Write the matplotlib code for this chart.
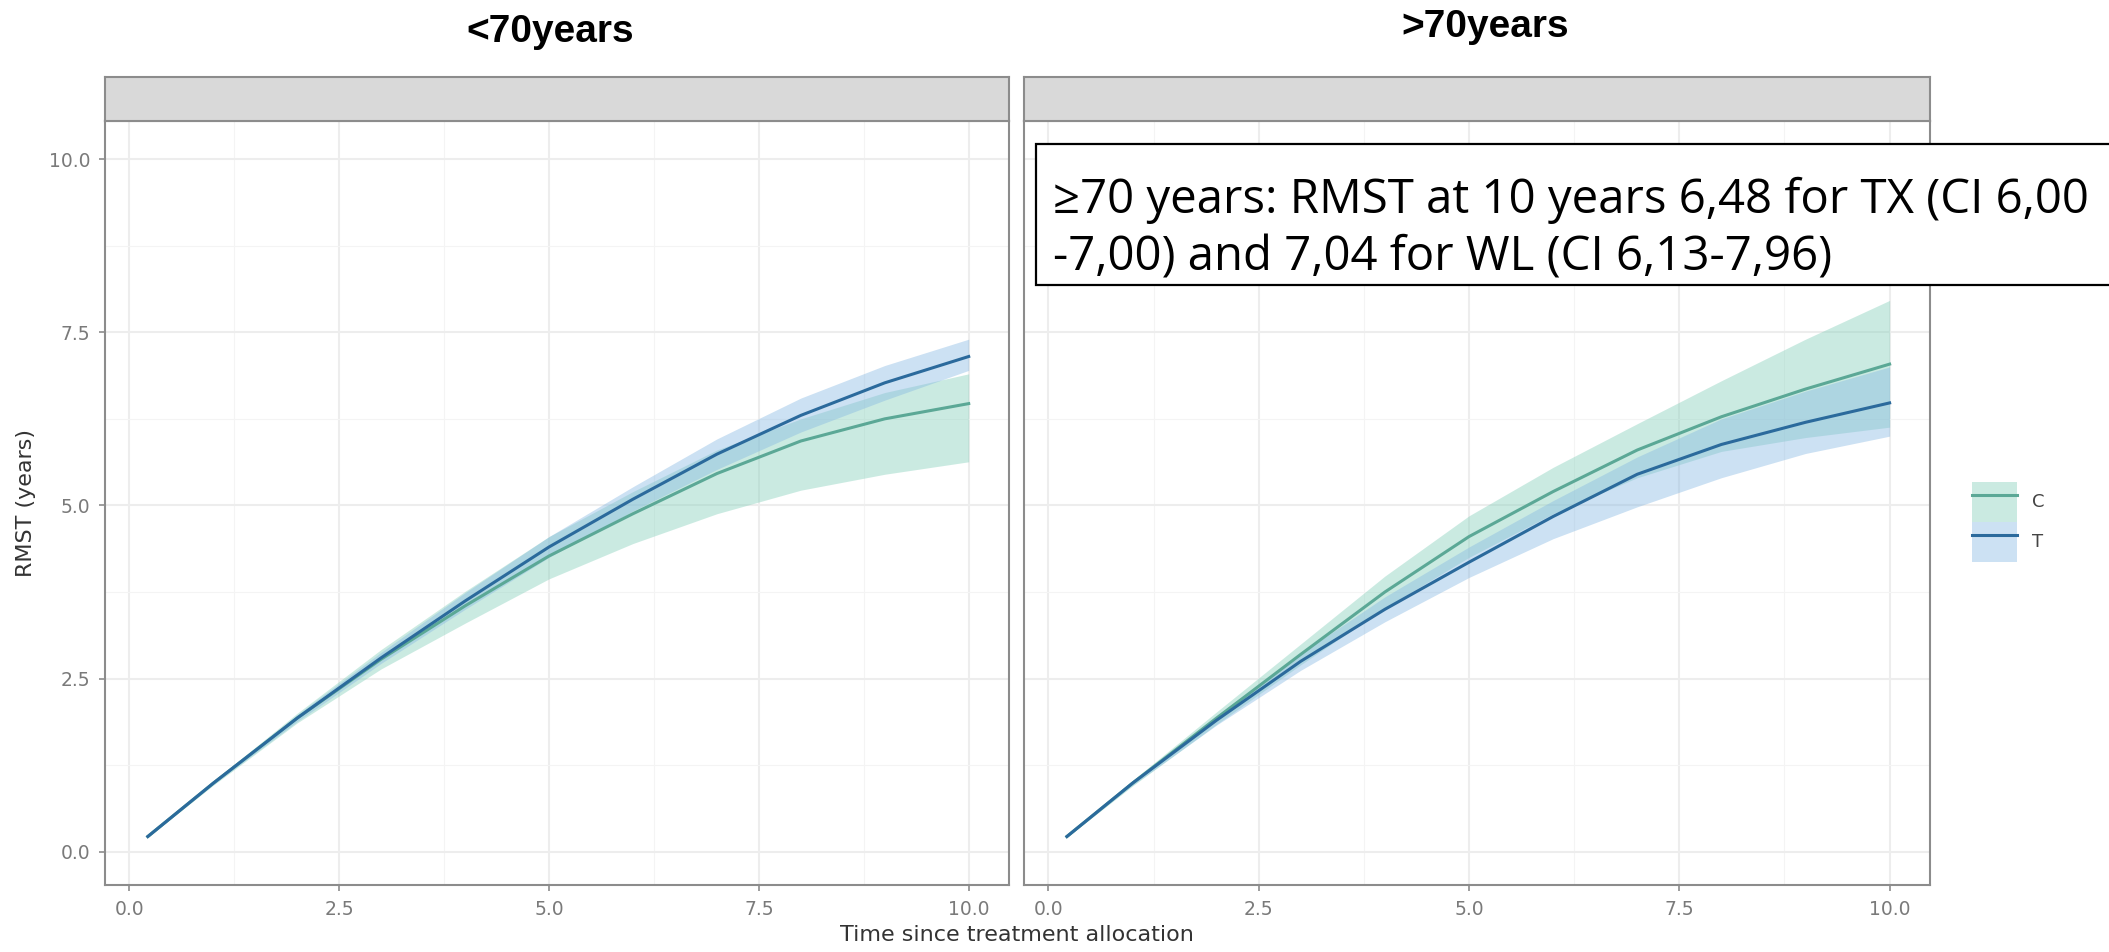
import matplotlib
matplotlib.use("Agg")
import matplotlib.pyplot as plt
from matplotlib.patches import Rectangle, Patch
from matplotlib.lines import Line2D
from matplotlib.legend_handler import HandlerTuple
from matplotlib.ticker import MultipleLocator

# time points (years since treatment allocation)
t = [0.22, 1, 2, 3, 4, 5, 6, 7, 8, 9, 10]

# <70 years
c_left = [0.22, 0.99, 1.93, 2.78, 3.55, 4.27, 4.88, 5.46, 5.93, 6.25, 6.47]
c_left_lo = [0.21, 0.96, 1.86, 2.64, 3.30, 3.94, 4.45, 4.88, 5.22, 5.45, 5.63]
c_left_hi = [0.23, 1.02, 2.00, 2.92, 3.76, 4.55, 5.20, 5.80, 6.25, 6.63, 6.90]
t_left = [0.22, 0.99, 1.93, 2.80, 3.62, 4.40, 5.09, 5.74, 6.30, 6.77, 7.15]
t_left_lo = [0.21, 0.97, 1.88, 2.72, 3.50, 4.25, 4.92, 5.52, 6.06, 6.52, 6.95]
t_left_hi = [0.23, 1.01, 1.98, 2.88, 3.74, 4.55, 5.27, 5.96, 6.55, 7.02, 7.40]

# >70 years
c_right = [0.22, 0.99, 1.93, 2.85, 3.75, 4.55, 5.20, 5.80, 6.28, 6.68, 7.04]
c_right_lo = [0.21, 0.95, 1.84, 2.70, 3.52, 4.25, 4.88, 5.40, 5.78, 5.98, 6.13]
c_right_hi = [0.23, 1.03, 2.02, 3.00, 3.98, 4.85, 5.55, 6.18, 6.80, 7.40, 7.96]
t_right = [0.22, 0.99, 1.90, 2.75, 3.50, 4.18, 4.84, 5.45, 5.88, 6.20, 6.48]
t_right_lo = [0.21, 0.96, 1.83, 2.62, 3.32, 3.96, 4.52, 4.98, 5.40, 5.75, 6.00]
t_right_hi = [0.23, 1.02, 1.97, 2.86, 3.68, 4.40, 5.07, 5.70, 6.25, 6.65, 7.00]

groups = ["C", "T"]
titles = ["<70years", ">70years"]
note = ["\u226570 years: RMST at 10 years 6,48 for TX (CI 6,00",
        "-7,00) and 7,04 for WL (CI 6,13-7,96)"]

green_line = "#5ba896"
blue_line = "#2b6a9c"
green_fill = "#82cfb9"
blue_fill = "#86b8e3"
border = "#8c8c8c"
tick_grey = "#7a7a7a"

W, H = 2109, 952
fig = plt.figure(figsize=(W / 100, H / 100), dpi=100)
fig.patch.set_facecolor("white")

ax_bottom = 1 - 885 / H
ax_height = (885 - 121) / H
panels = [(105, 904), (1024, 906)]

def draw_panel(ax, c, c_lo, c_hi, tr, tr_lo, tr_hi):
    ax.fill_between(t, c_lo, c_hi, color=green_fill, alpha=0.42, lw=0)
    ax.fill_between(t, tr_lo, tr_hi, color=blue_fill, alpha=0.42, lw=0)
    ax.plot(t, c, color=green_line, lw=2.2)
    ax.plot(t, tr, color=blue_line, lw=2.2)

data = [(c_left, c_left_lo, c_left_hi, t_left, t_left_lo, t_left_hi),
        (c_right, c_right_lo, c_right_hi, t_right, t_right_lo, t_right_hi)]

axes = []
for i, (x0, w) in enumerate(panels):
    ax = fig.add_axes([x0 / W, ax_bottom, w / W, ax_height])
    draw_panel(ax, *data[i])
    ax.set_xlim(-0.29, 10.48)
    ax.set_ylim(-0.48, 10.55)
    ax.xaxis.set_major_locator(MultipleLocator(2.5))
    ax.xaxis.set_minor_locator(MultipleLocator(1.25))
    ax.yaxis.set_major_locator(MultipleLocator(2.5))
    ax.yaxis.set_minor_locator(MultipleLocator(1.25))
    ax.set_axisbelow(True)
    ax.grid(which="major", color="#ededed", lw=1.5)
    ax.grid(which="minor", color="#f4f4f4", lw=0.8)
    for s in ax.spines.values():
        s.set_color(border)
        s.set_linewidth(1.5)
    ax.tick_params(which="minor", length=0)
    ax.tick_params(which="major", length=4.5, width=1.2, color=border,
                   labelcolor=tick_grey, labelsize=13.5, pad=6)
    ax.xaxis.set_major_formatter(lambda v, p: f"{v:.1f}")
    ax.yaxis.set_major_formatter(lambda v, p: f"{v:.1f}")
    if i == 1:
        ax.tick_params(axis="y", left=False, labelleft=False)
    axes.append(ax)

    # facet strip
    sax = fig.add_axes([x0 / W, 1 - 121 / H, w / W, 44 / H])
    sax.set_facecolor("#d9d9d9")
    sax.set_xticks([])
    sax.set_yticks([])
    for s in sax.spines.values():
        s.set_color(border)
        s.set_linewidth(1.5)

# titles above the panels
fig.text(550 / W, 1 - 42 / H, titles[0], ha="center", va="baseline",
         fontsize=28, fontweight="bold", family=["Liberation Sans", "DejaVu Sans"])
fig.text(1485 / W, 1 - 37 / H, titles[1], ha="center", va="baseline",
         fontsize=28, fontweight="bold", family=["Liberation Sans", "DejaVu Sans"])

# axis titles
fig.text(26 / W, 1 - 503 / H, "RMST (years)", rotation=90, ha="center",
         va="center", fontsize=16, color="#333333")
fig.text(1017 / W, 1 - 935 / H, "Time since treatment allocation", ha="center",
         va="center", fontsize=16, color="#333333")

# legend
handles = [(Patch(facecolor=green_fill, alpha=0.42, lw=0), Line2D([], [], color=green_line, lw=2.2)),
           (Patch(facecolor=blue_fill, alpha=0.42, lw=0), Line2D([], [], color=blue_line, lw=2.2))]
leg = fig.legend(handles, groups, handler_map={tuple: HandlerTuple(ndivide=1, pad=0)},
                 loc="center left", bbox_to_anchor=(1972 / W, 1 - 522 / H),
                 frameon=False, fontsize=13, handlelength=2.5, handleheight=3.0,
                 labelspacing=0, borderpad=0, borderaxespad=0, handletextpad=0.8)
for txt in leg.get_texts():
    txt.set_color("#444444")

# annotation box
fig.patches.append(Rectangle((1036 / W, 1 - 285 / H), (W + 10 - 1036) / W, 141 / H,
                             transform=fig.transFigure, facecolor="white",
                             edgecolor="black", lw=1.6, zorder=5))
renderer = fig.canvas.get_renderer()
probe = fig.text(0, 0, note[0], fontsize=30, family=["Open Sans", "DejaVu Sans"])
size = 30 * 1036 / probe.get_window_extent(renderer).width
probe.remove()
fig.text(1053 / W, 1 - 213 / H, note[0], fontsize=size, va="baseline",
         family=["Open Sans", "DejaVu Sans"], zorder=6)
fig.text(1053 / W, 1 - 270 / H, note[1], fontsize=size, va="baseline",
         family=["Open Sans", "DejaVu Sans"], zorder=6)

fig.savefig("out.png", dpi=100)
